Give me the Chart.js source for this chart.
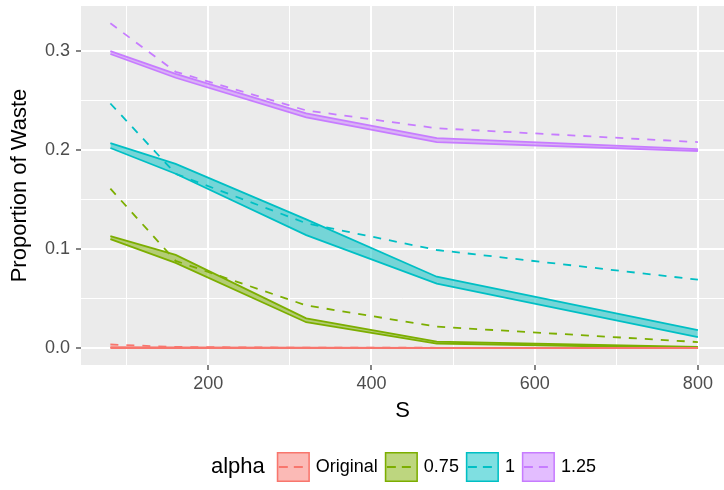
<!DOCTYPE html>
<html>
<head>
<meta charset="utf-8">
<script src="https://cdn.jsdelivr.net/npm/chart.js@4"></script>
<style>
  html, body { margin: 0; padding: 0; background: #fff; }
</style>
</head>
<body>
<canvas id="myChart" width="724" height="490"></canvas>
<script>
// values
const S = [80, 160, 320, 480, 800];
const groups = ['Original', '0.75', '1', '1.25'];
const colors = ['#F8766D', '#7CAE00', '#00BFC4', '#C77CFF'];
const fills = ['rgba(248,118,109,0.5)', 'rgba(124,174,0,0.5)', 'rgba(0,191,196,0.5)', 'rgba(199,124,255,0.5)'];

const lowOriginal = [0, 0, 0, 0, 0];
const highOriginal = [0.0008, 0.0005, 0.0003, 0.0002, 0.0001];
const dashOriginal = [0.0035, 0.001, 0.0003, 0.0002, 0.0001];

const low075 = [0.110, 0.086, 0.026, 0.0045, 0.0];
const high075 = [0.113, 0.094, 0.030, 0.0065, 0.001];
const dash075 = [0.161, 0.088, 0.043, 0.0215, 0.006];

const low1 = [0.202, 0.176, 0.114, 0.065, 0.011];
const high1 = [0.207, 0.186, 0.130, 0.072, 0.018];
const dash1 = [0.247, 0.176, 0.126, 0.099, 0.069];

const low125 = [0.297, 0.273, 0.233, 0.208, 0.199];
const high125 = [0.300, 0.277, 0.237, 0.212, 0.201];
const dash125 = [0.328, 0.279, 0.240, 0.222, 0.208];

const xGrid = [100, 200, 300, 400, 500, 600, 700, 800];
const xLabels = ['', '200', '', '400', '', '600', '', '800'];
const yGrid = [0, 0.05, 0.1, 0.15, 0.2, 0.25, 0.3];
const yLabels = ['0.0', '', '0.1', '', '0.2', '', '0.3'];

const lows = [lowOriginal, low075, low1, low125];
const highs = [highOriginal, high075, high1, high125];
const dashes = [dashOriginal, dash075, dash1, dash125];

const FONT = '"Liberation Sans", Arial, sans-serif';

function pts(arr) {
  return S.map((s, j) => ({x: s, y: arr[j]}));
}

var datasets = [];
groups.forEach(function(g, i) {
  datasets.push({
    label: g + ' low', data: pts(lows[i]),
    borderColor: colors[i], borderWidth: 1.8, pointRadius: 0, fill: false, order: 1
  });
  datasets.push({
    label: g + ' high', data: pts(highs[i]),
    borderColor: colors[i], backgroundColor: fills[i], borderWidth: 1.8, pointRadius: 0, fill: '-1', order: 1
  });
});
groups.forEach(function(g, i) {
  datasets.push({
    label: g, data: pts(dashes[i]),
    borderColor: colors[i], borderWidth: 1.8, borderDash: [8, 8], pointRadius: 0, fill: false, order: 0
  });
});

const panelBg = {
  id: 'panelBg',
  beforeDraw(chart) {
    const c = chart.ctx, a = chart.chartArea;
    c.save();
    c.fillStyle = '#fff';
    c.fillRect(0, 0, chart.width, chart.height);
    c.fillStyle = '#EBEBEB';
    c.fillRect(a.left, a.top, a.right - a.left, a.bottom - a.top);
    c.restore();
  }
};

const alphaLegend = {
  id: 'alphaLegend',
  afterDraw(chart) {
    const c = chart.ctx;
    const cy = 467;
    let x = 211;
    c.save();
    c.textBaseline = 'middle';
    c.fillStyle = '#000';
    c.font = '22px ' + FONT;
    c.fillText('alpha', x, cy);
    x += c.measureText('alpha').width + 12;
    groups.forEach(function(g, i) {
      c.fillStyle = fills[i];
      c.fillRect(x, cy - 15, 33, 30);
      c.strokeStyle = colors[i];
      c.lineWidth = 1.5;
      c.strokeRect(x + 0.75, cy - 14.25, 31.5, 28.5);
      c.lineWidth = 1.8;
      c.setLineDash([9, 6]);
      c.beginPath();
      c.moveTo(x + 2, cy);
      c.lineTo(x + 31, cy);
      c.stroke();
      c.setLineDash([]);
      c.fillStyle = '#000';
      c.font = '18px ' + FONT;
      c.fillText(g, x + 39, cy);
      x += 39 + c.measureText(g).width + 7;
    });
    c.restore();
  }
};

var ctx = document.getElementById('myChart');
var myChart = new Chart(ctx, {
  type: 'line',
  data: { datasets: datasets },
  plugins: [panelBg, alphaLegend],
  options: {
    responsive: false,
    animation: false,
    devicePixelRatio: 1,
    layout: { padding: { top: 6, left: 0, right: 0, bottom: 0 } },
    plugins: { legend: { display: false }, tooltip: { enabled: false } },
    elements: { line: { tension: 0 } },
    scales: {
      x: {
        type: 'linear', min: 44, max: 832,
        afterBuildTicks: function(s) { s.ticks = xGrid.map(v => ({value: v})); },
        afterFit: function(s) { s.height = 125; s.paddingLeft = 0; s.paddingRight = 0; },
        border: { display: false },
        grid: {
          color: '#fff',
          lineWidth: c => (c.tick && c.tick.value % 200 === 0) ? 2 : 1,
          tickColor: c => (c.tick && c.tick.value % 200 === 0) ? '#333' : 'rgba(0,0,0,0)',
          tickLength: 5, tickWidth: 1.2
        },
        ticks: {
          autoSkip: false, maxRotation: 0, padding: 3, color: '#4D4D4D',
          font: { family: FONT, size: 18 },
          callback: (v, i) => xLabels[i]
        },
        title: { display: true, text: 'S', color: '#000', font: { family: FONT, size: 22 }, padding: { top: 0, bottom: 66 } }
      },
      y: {
        type: 'linear', min: -0.0172, max: 0.3455,
        afterBuildTicks: function(s) { s.ticks = yGrid.map(v => ({value: v})); },
        afterFit: function(s) { s.width = 81; s.paddingTop = 0; s.paddingBottom = 0; },
        border: { display: false },
        grid: {
          color: '#fff',
          lineWidth: c => (c.index % 2 === 0) ? 2 : 1,
          tickColor: c => (c.index % 2 === 0) ? '#333' : 'rgba(0,0,0,0)',
          tickLength: 5, tickWidth: 1.2
        },
        ticks: {
          autoSkip: false, padding: 6, color: '#4D4D4D',
          font: { family: FONT, size: 18 },
          callback: (v, i) => yLabels[i]
        },
        title: { display: true, text: 'Proportion of Waste', color: '#000', font: { family: FONT, size: 22 }, padding: { top: 7, bottom: 0 } }
      }
    }
  }
});
</script>
</body>
</html>
